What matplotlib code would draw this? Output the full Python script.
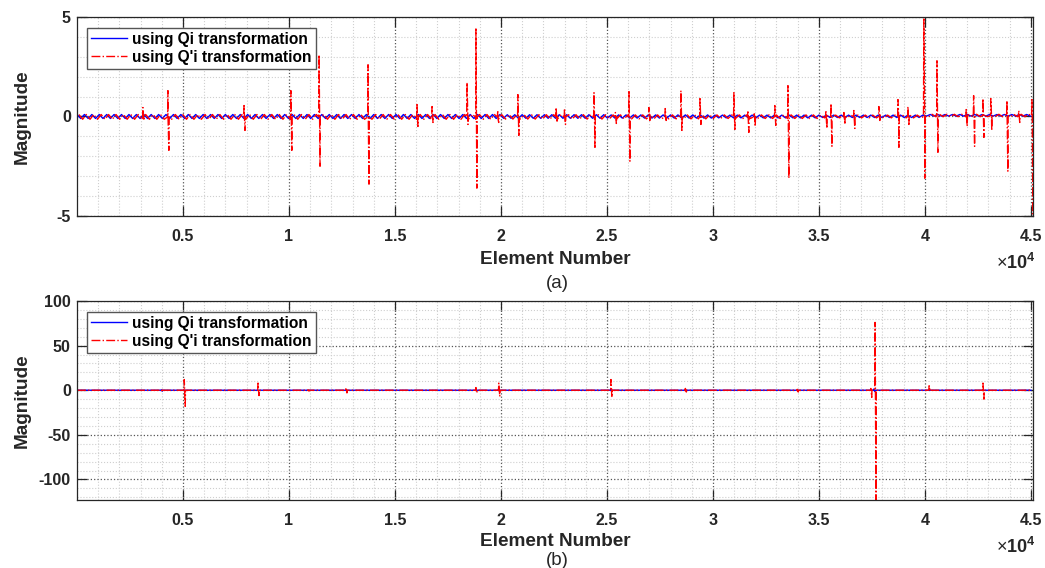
import numpy as np
import matplotlib
matplotlib.use('Agg')
import matplotlib.pyplot as plt
from matplotlib.ticker import MultipleLocator, FixedLocator, FuncFormatter

plt.rcParams['font.family'] = ['Liberation Sans', 'DejaVu Sans']
plt.rcParams['axes.unicode_minus'] = False
plt.rcParams['mathtext.fontset'] = 'custom'
plt.rcParams['mathtext.rm'] = 'Liberation Sans'
plt.rcParams['mathtext.bf'] = 'Liberation Sans:bold'

# element-number segments used for the ripple envelope (every 5000 elements)
seg_edges = [0, 5000, 10000, 15000, 20000, 25000, 30000, 35000, 40000]
x_end = 45100

# panel (a): ripple amplitude / offset of the baseline per segment
amp_qi_a = [0.10, 0.10, 0.10, 0.10, 0.09, 0.08, 0.07, 0.06, 0.04]
off_qi_a = [0.00, 0.00, 0.00, 0.00, 0.00, 0.00, 0.00, 0.01, 0.06]
amp_qpi_a = [0.12, 0.12, 0.12, 0.12, 0.11, 0.10, 0.09, 0.07, 0.06]
off_qpi_a = [-0.02, -0.02, -0.02, -0.02, -0.02, -0.02, -0.01, 0.00, 0.05]

# panel (a): spikes of the Q'i curve (element, peak up, peak down)
spk_a_x = [3110, 4290, 7880, 10090, 11420, 13730, 16040, 16750, 18400, 18820,
           19850, 20800, 22600, 23000, 24390, 25400, 26040, 26980, 27750, 28490,
           29390, 30990, 31650, 31950, 32920, 33540, 35330, 35570, 36180, 36650,
           37830, 38730, 39200, 39950, 40570, 41950, 42300, 42740, 43110, 43870,
           44430, 45050]
spk_a_up = [0.45, 1.3, 0.55, 1.3, 3.1, 2.6, 0.6, 0.5, 1.7, 4.4,
            0.3, 1.1, 0.45, 0.4, 1.2, 0.2, 1.25, 0.45, 0.4, 1.3,
            0.9, 1.2, 0.3, 0.2, 0.55, 1.55, 0.3, 0.65, 0.2, 0.3,
            0.5, 0.85, 0.5, 4.9, 2.8, 0.35, 1.05, 0.9, 0.9, 0.8,
            0.3, 0.85]
spk_a_dn = [-0.2, -1.7, -0.7, -1.7, -2.5, -3.4, -0.5, -0.3, -0.4, -3.6,
            -0.3, -0.95, -0.3, -0.4, -1.55, -0.35, -2.25, -0.2, -0.2, -0.7,
            -0.4, -0.65, -0.8, -0.5, -0.45, -3.1, -0.6, -1.5, -0.4, -0.6,
            -0.2, -1.55, -0.4, -3.1, -1.8, -0.5, -1.5, -1.05, -0.7, -2.75,
            -0.3, -4.9]

# panel (b): spikes of the Q'i curve (element, peak up, peak down)
spk_b_x = [3960, 5060, 8540, 10900, 12690, 18820, 19900, 25190, 28700,
           33980, 37450, 37650, 40200, 42740]
spk_b_up = [0.5, 12, 8, 0.5, 3, 3, 8, 12, 2, 1, 2, 76, 5, 8]
spk_b_dn = [-2, -18, -6, -1, -3, -3, -7, -8, -2, -2, -8, -130, -1, -10]

# panel (b): small bumps of the Qi curve
spk_bq_x = [3980, 19880, 25170, 37600]
spk_bq_up = [0.5, 1.0, 1.0, 1.5]
spk_bq_dn = [-1.0, -1.0, -1.0, -1.5]


def series(step, phase, amp, off, sx, sup, sdn):
    xs = np.arange(1 + phase, x_end, step)
    seg = np.searchsorted(seg_edges, xs, side='right') - 1
    sign = np.where(np.arange(len(xs)) % 2 == 0, 1.0, -1.0)
    ys = np.take(amp, seg) * sign + np.take(off, seg)
    sx = np.asarray(sx, float)
    base = np.take(off, np.searchsorted(seg_edges, sx, side='right') - 1)
    px = np.concatenate([sx - 15, sx, sx + 45, sx + 60])
    py = np.concatenate([base, sup, sdn, base])
    allx = np.concatenate([xs, px])
    ally = np.concatenate([ys, py])
    o = np.argsort(allx, kind='stable')
    return allx[o], ally[o]


xa_b, ya_b = series(175, 0, amp_qi_a, off_qi_a, [], [], [])
xa_r, ya_r = series(175, 90, amp_qpi_a, off_qpi_a, spk_a_x, spk_a_up, spk_a_dn)
zeros = [0.0] * len(seg_edges)
xb_b, yb_b = series(500, 0, zeros, zeros, spk_bq_x, spk_bq_up, spk_bq_dn)
xb_r, yb_r = series(500, 0, zeros, zeros, spk_b_x, spk_b_up, spk_b_dn)

fig = plt.figure(figsize=(10.45, 5.68), dpi=100)
ax1 = fig.add_axes([0.0737, 0.6197, 0.9148, 0.3504])
ax2 = fig.add_axes([0.0737, 0.1197, 0.9148, 0.3504])

xt = [5000, 10000, 15000, 20000, 25000, 30000, 35000, 40000, 45000]
fmt = FuncFormatter(lambda v, p: '%g' % (v / 1e4))
dark = '#262626'

panels = [
    (ax1, (xa_b, ya_b, xa_r, ya_r), (-5, 5), 5, 1, '(a)', -0.216, -0.337, -0.235),
    (ax2, (xb_b, yb_b, xb_r, yb_r), (-123, 100), 50, 10, '(b)', -0.206, -0.302, -0.236),
]
for ax, (xb, yb, xr, yr), ylim, ymaj, ymin, cap, xl_y, cap_y, mul_y in panels:
    ax.plot(xb, yb, color='#0000ff', lw=1.0, label='using Qi transformation')
    ax.plot(xr, yr, color='#ff0000', lw=1.0, ls='-.',
            label="using Q'i transformation")
    ax.set_xlim(1, x_end)
    ax.set_ylim(*ylim)
    ax.xaxis.set_major_locator(FixedLocator(xt))
    ax.xaxis.set_minor_locator(MultipleLocator(1000))
    ax.xaxis.set_major_formatter(fmt)
    ax.yaxis.set_major_locator(MultipleLocator(ymaj))
    ax.yaxis.set_minor_locator(MultipleLocator(ymin))
    ax.grid(which='major', ls=':', color='#555555', lw=0.9)
    ax.grid(which='minor', ls=':', color='#cfcfcf', lw=0.8)
    ax.tick_params(which='major', direction='in', length=7, width=0.9,
                   top=True, right=True, labelsize=11.5, colors=dark)
    ax.tick_params(axis='x', pad=9.5)
    ax.tick_params(axis='y', pad=4.5)
    ax.tick_params(which='minor', length=0)
    for lab in ax.get_xticklabels() + ax.get_yticklabels():
        lab.set_fontweight('bold')
    for s in ax.spines.values():
        s.set_color(dark)
        s.set_linewidth(0.9)
    ax.set_xlabel('Element Number', fontsize=13.7, fontweight='bold', color=dark)
    ax.xaxis.set_label_coords(0.5, xl_y)
    ax.xaxis.label.set_va('center')
    ax.set_ylabel('Magnitude', fontsize=13.7, fontweight='bold', color=dark)
    ax.yaxis.set_label_coords(-0.0575, 0.5)
    ax.yaxis.label.set_va('center')
    ax.text(1.003, mul_y, '\u00d7' + r'$\mathbf{10^{4}}$', transform=ax.transAxes,
            ha='right', va='center', fontsize=13, color=dark)
    ax.text(0.502, cap_y, cap, transform=ax.transAxes, ha='center',
            va='center', fontsize=13.5, color=dark)
    leg = ax.legend(loc='upper left', bbox_to_anchor=(0.0105, 0.945),
                    prop={'weight': 'bold', 'size': 11.2}, fancybox=False,
                    framealpha=1, borderpad=0.25, labelspacing=0.2,
                    handlelength=2.35, handletextpad=0.3, borderaxespad=0.0)
    leg.get_frame().set_edgecolor('#555555')
    leg.get_frame().set_linewidth(1.0)

fig.savefig('out.png', dpi=100)
